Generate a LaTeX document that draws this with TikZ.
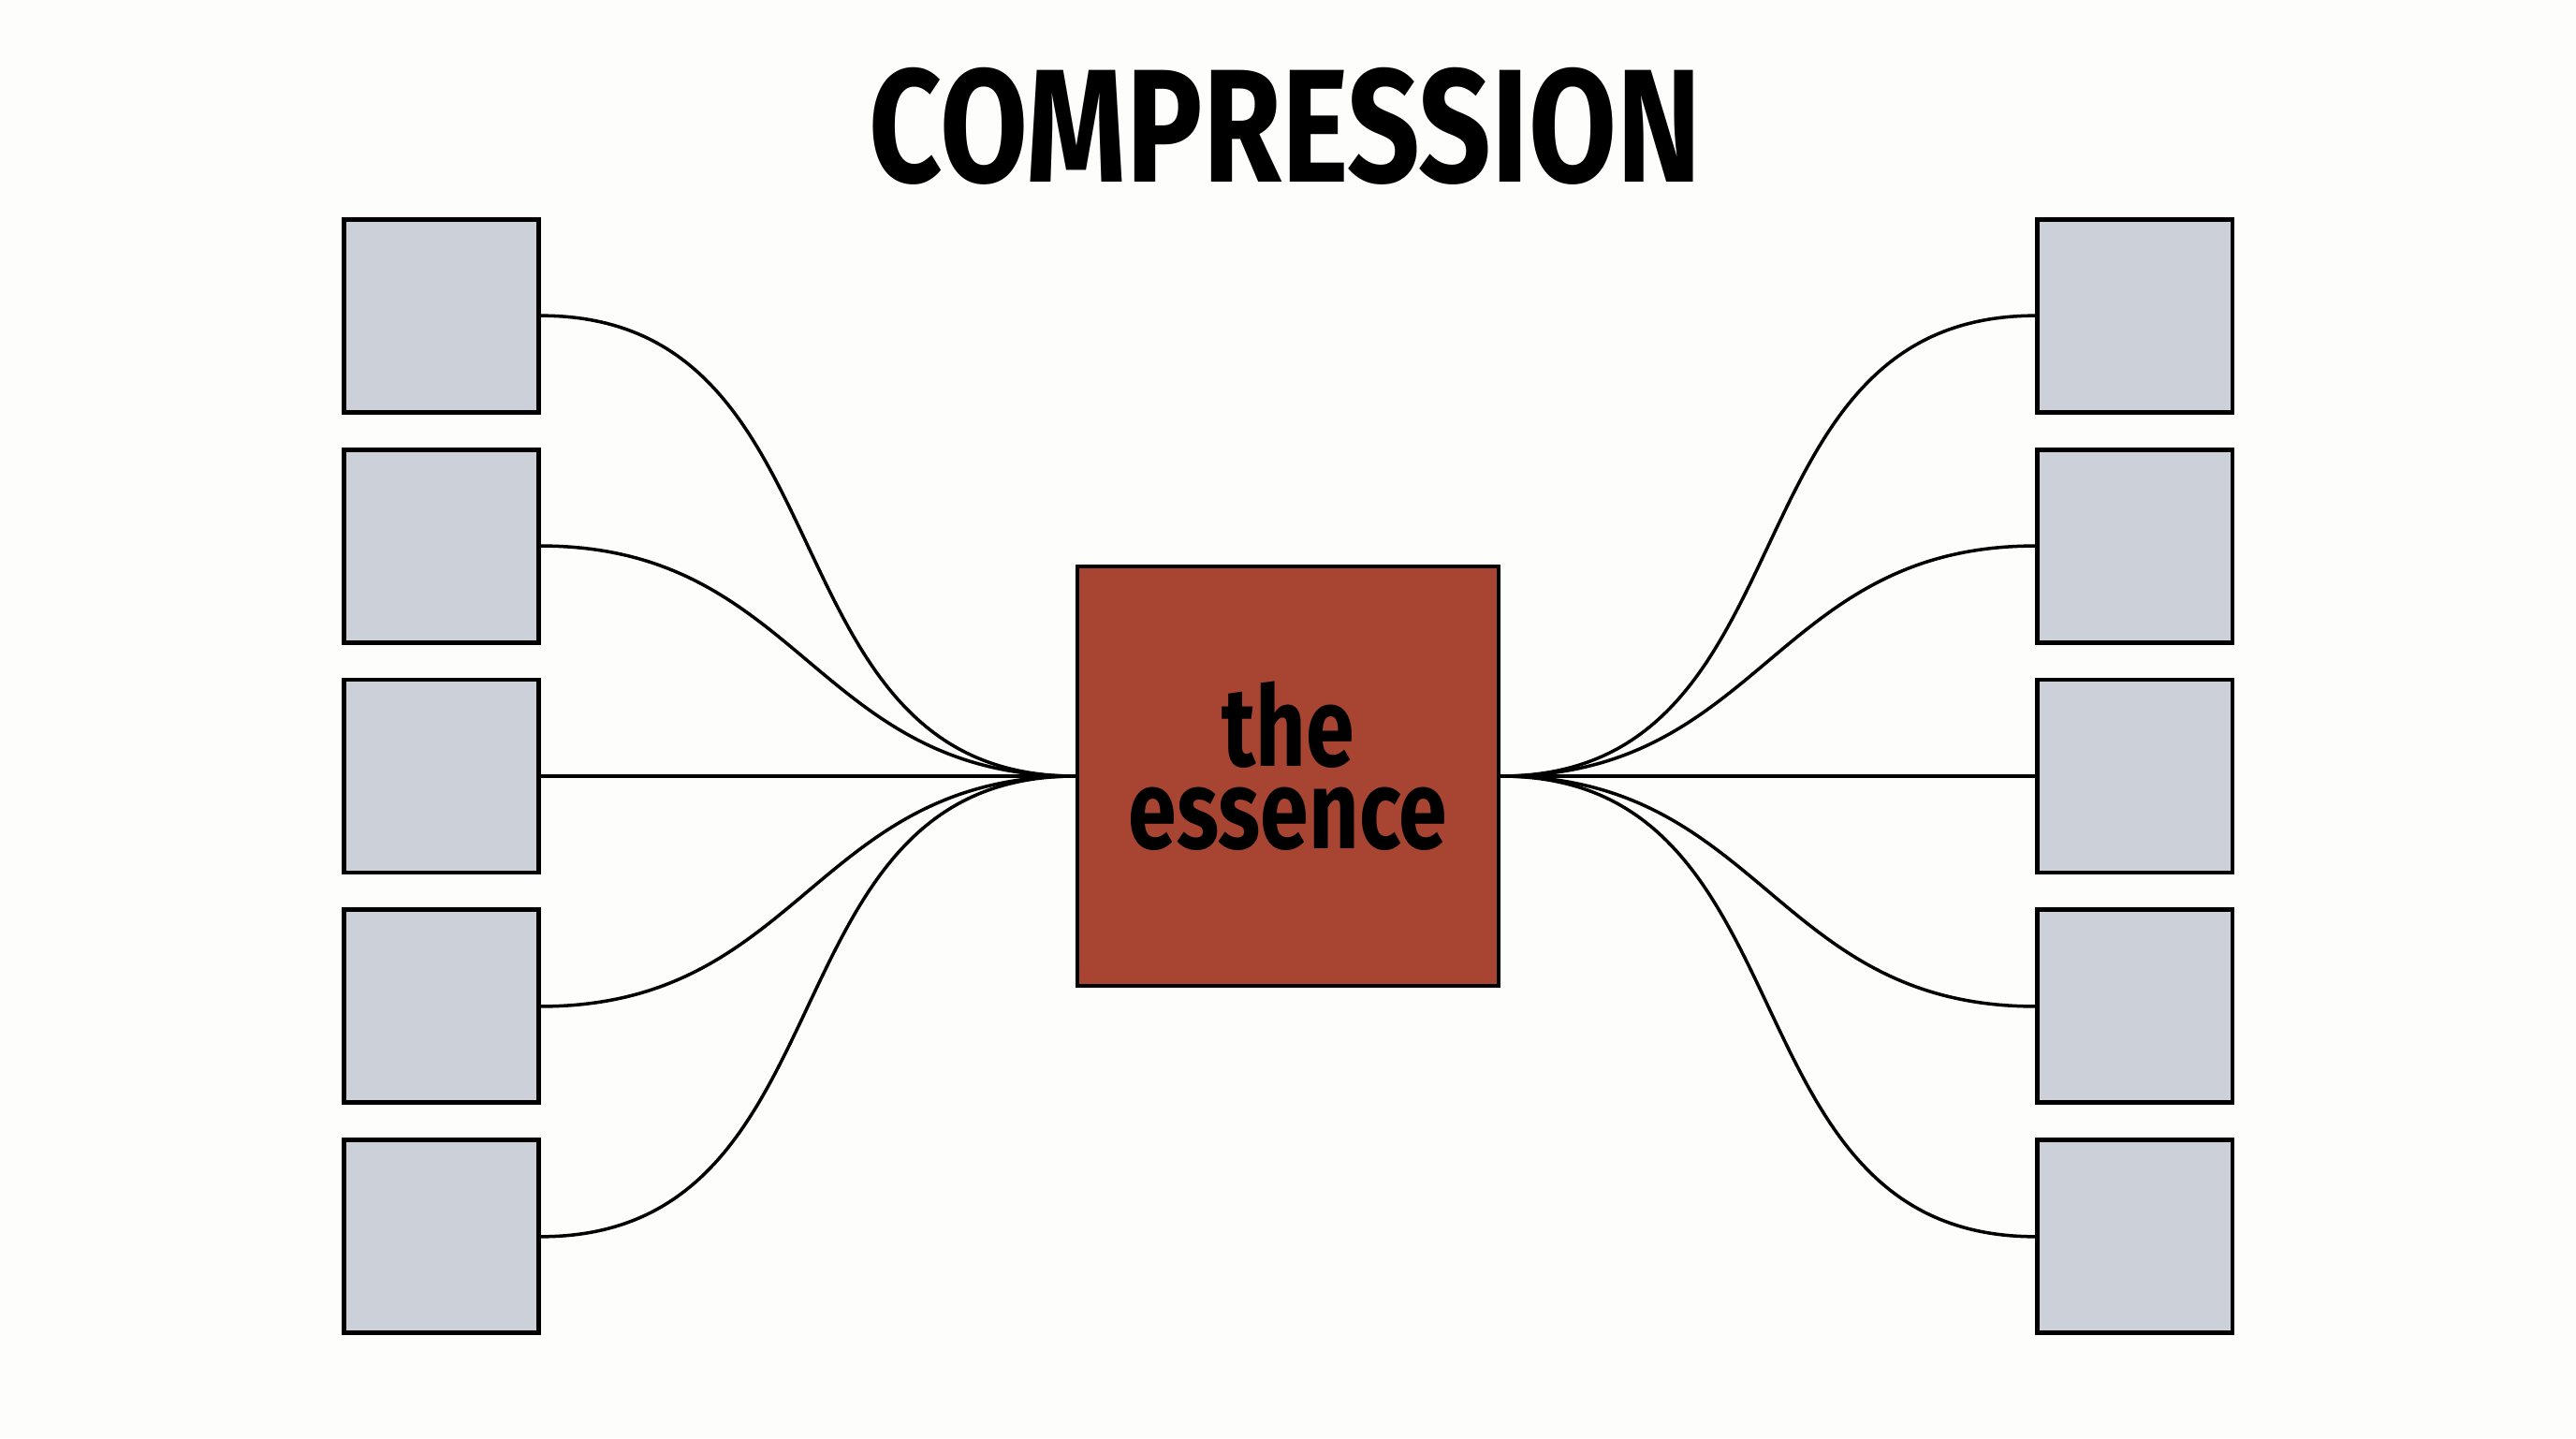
\documentclass[tikz,border=0pt]{standalone}
\usepackage{fontspec}
\setmainfont{Fira Sans}
\usepackage{xcolor}
\usepackage{tikz}
\usetikzlibrary{positioning}

\definecolor{paper}{HTML}{FDFDFB}
\definecolor{slate}{HTML}{CCD0D8}
\definecolor{rust}{HTML}{A84532}

\begin{document}
\begin{tikzpicture}[
  node distance=3.5mm and 57.1mm,
  part/.style={draw,line width=1.4pt,fill=slate,minimum width=2.08cm,minimum height=2.06cm,inner sep=0pt},
  core/.style={draw,line width=1.4pt,fill=rust,minimum width=4.5cm,minimum height=4.48cm,
               align=center,font=\bfseries\fontsize{34}{25}\selectfont,inner sep=0pt},
  link/.style={line width=1pt,looseness=1.15}
]
\fill[paper] (0,0) rectangle (27.52,-15.36);
\useasboundingbox (0,0) rectangle (27.52,-15.36);

\node[font=\bfseries\fontsize{49}{49}\selectfont,xscale=0.79] (title) at (13.73,-1.35) {COMPRESSION};

\node[core] (ess) at (13.76,-8.29) {\scalebox{0.78}[1]{the}\\\scalebox{0.78}[1]{essence}\rule[-0.24cm]{0pt}{0pt}};

% left column
\node[part,left=of ess] (l3) {};
\node[part,above=of l3] (l2) {};
\node[part,above=of l2] (l1) {};
\node[part,below=of l3] (l4) {};
\node[part,below=of l4] (l5) {};

% right column
\node[part,right=of ess] (r3) {};
\node[part,above=of r3] (r2) {};
\node[part,above=of r2] (r1) {};
\node[part,below=of r3] (r4) {};
\node[part,below=of r4] (r5) {};

\draw[link] (l1.east) to[out=0,in=180] (ess.west);
\draw[link] (l2.east) to[out=0,in=180] (ess.west);
\draw[link] (l3.east) to[out=0,in=180] (ess.west);
\draw[link] (l4.east) to[out=0,in=180] (ess.west);
\draw[link] (l5.east) to[out=0,in=180] (ess.west);
\draw[link] (ess.east) to[out=0,in=180] (r1.west);
\draw[link] (ess.east) to[out=0,in=180] (r2.west);
\draw[link] (ess.east) to[out=0,in=180] (r3.west);
\draw[link] (ess.east) to[out=0,in=180] (r4.west);
\draw[link] (ess.east) to[out=0,in=180] (r5.west);
\end{tikzpicture}
\end{document}
